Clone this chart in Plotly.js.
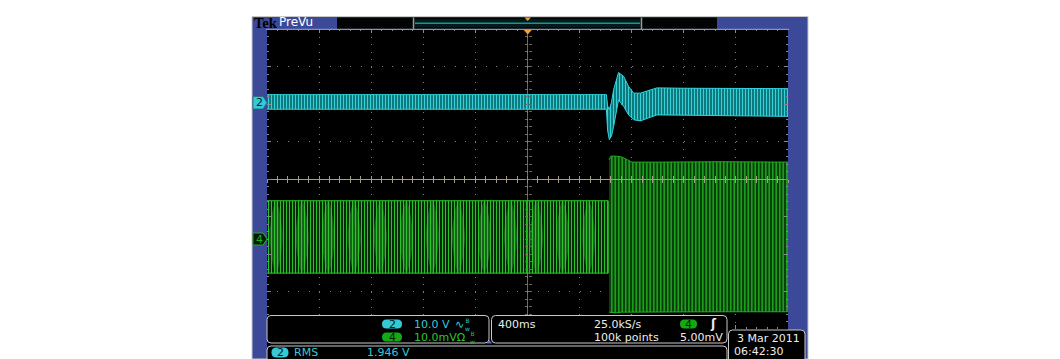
<!DOCTYPE html>
<html><head><meta charset="utf-8">
<script src="https://cdn.plot.ly/plotly-3.0.1.min.js"></script>
<style>html,body{margin:0;padding:0;background:#fff;}#chart{width:1060px;height:359px;}</style>
</head><body><div id="chart"></div><script>
// ---- acquisition settings (from the readouts) ----
const timePerDiv_s = 0.4;          // 400 ms/div, 10 divisions, trigger at centre
const ch2VoltsPerDiv = 10.0;       // CH2 10.0 V/div
const ch4mVPerDiv = 10.0;          // CH4 10.0 mV/div
const ch2PositionDiv = 2.04;       // CH2 ground marker
const ch4PositionDiv = -1.59;      // CH4 ground marker

// ---- CH2 (cyan) envelope of the dense waveform, volts about ground ----
const ch2Time  = [-2.0, 0.606, 0.615, 0.628, 0.645, 0.661, 0.699, 0.738, 0.776, 0.815, 0.866, 0.930, 0.994, 1.20, 1.50, 2.0];
const ch2Upper = [ 2.1,  2.1,  -0.9,  -1.9,   0.1,   3.4,   8.0,   7.0,   4.3,   2.5,   2.5,   3.2,   3.9,  3.8,  3.7, 3.7];
const ch2Lower = [-1.8, -1.8,  -7.4,  -9.9,  -8.9,  -6.4,   0.7,  -1.0,  -3.3,  -4.6,  -4.9,  -4.1,  -3.3, -3.5, -3.6, -3.7];

// ---- CH4 (green) envelope, mV about ground: before the step ----
const ch4PreTime  = [-2.0, 0.620];
const ch4PreUpper = [10.1, 10.1];
const ch4PreLower = [-9.2, -9.2];
// ---- CH4 after the step ----
const ch4PostTime  = [0.626, 0.640, 0.680, 0.720, 0.770, 0.800, 1.00, 1.50, 2.0];
const ch4PostUpper = [21.0,  22.0,  22.0,  21.8,  21.0,  20.4,  20.4, 20.5, 20.4];
const ch4PostLower = [-19.6, -19.8, -19.8, -19.6, -19.5, -19.5, -19.5, -19.5, -19.5];
// centres of the bright beat lobes before the step, s
const ch4LobeTimes = [-1.93, -1.73, -1.53, -1.33, -1.13, -0.93, -0.73, -0.53, -0.33, -0.13, 0.07, 0.27, 0.47];

// ---- readout texts ----
const ch2Scale = "10.0 V";
const ch4Scale = "10.0mVΩ";
const horizScale = "400ms";
const sampleRate = "25.0kS/s";
const recordLen = "100k points";
const trigLevel = "5.00mV";
const dateText = "3 Mar 2011";
const timeText = "06:42:30";
const measName = "RMS";
const measValue = "1.946 V";

// ---- geometry helpers (decoration only) ----
const PX0 = 267, PW = 521, PY1 = 329, PH = 300;
const X = px => (px - PX0) / PW;
const Y = py => (PY1 - py) / PH;
function rrect(x0, y0, x1, y1, r) {
  return `M${X(x0 + r)},${Y(y0)} L${X(x1 - r)},${Y(y0)} Q${X(x1)},${Y(y0)} ${X(x1)},${Y(y0 + r)} ` +
         `L${X(x1)},${Y(y1 - r)} Q${X(x1)},${Y(y1)} ${X(x1 - r)},${Y(y1)} L${X(x0 + r)},${Y(y1)} ` +
         `Q${X(x0)},${Y(y1)} ${X(x0)},${Y(y1 - r)} L${X(x0)},${Y(y0 + r)} Q${X(x0)},${Y(y0)} ${X(x0 + r)},${Y(y0)} Z`;
}
function poly(pts) { return 'M' + pts.map(p => `${X(p[0])},${Y(p[1])}`).join(' L') + ' Z'; }
const FONT = 'DejaVu Sans, Verdana, sans-serif';
function ann(text, px, py, color, size, xanchor, extra) {
  return Object.assign({xref: 'paper', yref: 'paper', x: X(px), y: Y(py), xanchor: xanchor || 'left', yanchor: 'middle',
    showarrow: false, text: text, font: {family: FONT, size: size || 11, color: color}}, extra || {});
}

// ---- traces ----
const ch2Div = v => ch2PositionDiv + v / ch2VoltsPerDiv;
const ch4Div = v => ch4PositionDiv + v / ch4mVPerDiv;

function band(t, up, lo, conv) {
  const rt = t.slice().reverse(), rl = lo.slice().reverse();
  return {x: t.concat(rt), y: up.map(conv).concat(rl.map(conv))};
}
const ch4PreBand = band(ch4PreTime, ch4PreUpper, ch4PreLower, ch4Div);
const ch4PostBand = band(ch4PostTime, ch4PostUpper, ch4PostLower, ch4Div);
const ch2Band = band(ch2Time, ch2Upper, ch2Lower, ch2Div);

// lobes (lens shapes spanning the pre-step band)
const lobeX = [], lobeY = [];
const lobeTop = ch4Div(ch4PreUpper[0]), lobeBot = ch4Div(ch4PreLower[0]), lobeMid = (lobeTop + lobeBot) / 2;
ch4LobeTimes.forEach(c => {
  lobeX.push(c, c + 0.05, c, c - 0.05, c, null);
  lobeY.push(lobeTop, lobeMid, lobeBot, lobeMid, lobeTop, null);
});

const traces = [
  {type: 'scatter', mode: 'lines', x: ch4PreBand.x, y: ch4PreBand.y, fill: 'toself',
   fillcolor: '#031a04', line: {color: '#2bd02b', width: 1},
   fillpattern: {shape: '|', fgcolor: '#25c425', fgopacity: 1, size: 3, solidity: 0.4, fillmode: 'overlay'},
   hoverinfo: 'skip', name: 'CH4'},
  {type: 'scatter', mode: 'lines', x: lobeX, y: lobeY, fill: 'toself', connectgaps: false,
   fillcolor: 'rgba(60,200,60,0.35)', line: {width: 0, shape: 'spline'}, hoverinfo: 'skip', name: 'lobes'},
  {type: 'scatter', mode: 'lines', x: ch4PostBand.x, y: ch4PostBand.y, fill: 'toself',
   fillcolor: '#073a09', line: {color: '#22b022', width: 1},
   fillpattern: {shape: '|', fgcolor: '#1ea81e', fgopacity: 1, size: 3.5, solidity: 0.45, fillmode: 'overlay'},
   hoverinfo: 'skip', name: 'CH4b'},
  {type: 'scatter', mode: 'lines', x: ch2Band.x, y: ch2Band.y, fill: 'toself',
   fillcolor: '#08666b', line: {color: '#35d4dc', width: 1},
   fillpattern: {shape: '|', fgcolor: '#33d2da', fgopacity: 1, size: 3, solidity: 0.45, fillmode: 'overlay'},
   hoverinfo: 'skip', name: 'CH2'},
  {type: 'scatter', x: [], y: [], xaxis: 'x2', yaxis: 'y2', hoverinfo: 'skip'},
  {type: 'scatter', x: [], y: [], xaxis: 'x3', yaxis: 'y3', hoverinfo: 'skip'}
];

// ---- decoration shapes ----
const BLUE = '#3b4998', ORANGE = '#f0a23a', CYAN = '#35c9d6', GREEN = '#1fb41f';
const shapes = [
  // scope frame + graticule + readout backdrop (below plot content)
  {type: 'path', xref: 'paper', yref: 'paper', layer: 'below', path: poly([[252, 16.5], [808, 16.5], [808, 359], [252, 359]]), fillcolor: BLUE, line: {color: '#c8c8c8', width: 1}},
  {type: 'path', xref: 'paper', yref: 'paper', layer: 'below', path: poly([[267, 29], [788, 29], [788, 359], [267, 359]]), fillcolor: '#000', line: {width: 0}},
  // top bar boxes
  {type: 'path', xref: 'paper', yref: 'paper', layer: 'above', path: poly([[337, 17.5], [717, 17.5], [717, 29], [337, 29]]), fillcolor: '#020404', line: {width: 0}},
  {type: 'path', xref: 'paper', yref: 'paper', layer: 'above', path: poly([[414, 19], [641, 19], [641, 27], [414, 27]]), fillcolor: '#031c1b', line: {width: 0}},
  {type: 'line', xref: 'paper', yref: 'paper', layer: 'above', x0: X(415), x1: X(640), y0: Y(23.3), y1: Y(23.3), line: {color: '#1b9490', width: 1.5}},
  {type: 'line', xref: 'paper', yref: 'paper', layer: 'above', x0: X(413.5), x1: X(413.5), y0: Y(17.5), y1: Y(29), line: {color: '#9a9a9a', width: 1.5}},
  {type: 'line', xref: 'paper', yref: 'paper', layer: 'above', x0: X(641.5), x1: X(641.5), y0: Y(17.5), y1: Y(29), line: {color: '#9a9a9a', width: 1.5}},
  {type: 'path', xref: 'paper', yref: 'paper', layer: 'above', path: poly([[524.5, 17.5], [531, 17.5], [527.7, 21]]), fillcolor: ORANGE, line: {width: 0}},
  // graticule top border
  {type: 'line', xref: 'paper', yref: 'paper', layer: 'above', x0: X(266), x1: X(789), y0: Y(29.3), y1: Y(29.3), line: {color: '#8594c8', width: 1.2}},
  // centre vertical line (drawn over the traces like the scope does)
  {type: 'line', xref: 'x', yref: 'y', layer: 'above', x0: 0, x1: 0, y0: -4, y1: 4, line: {color: 'rgba(150,140,118,0.75)', width: 1}},
  // trigger position marker on graticule
  {type: 'path', xref: 'paper', yref: 'paper', layer: 'above', path: poly([[523.5, 29.8], [532, 29.8], [527.7, 34.5]]), fillcolor: ORANGE, line: {width: 0}},
  // channel markers
  {type: 'path', xref: 'paper', yref: 'paper', layer: 'above', path: poly([[253, 96.5], [263, 96.5], [267, 102.7], [263, 109], [253, 109]]), fillcolor: CYAN, line: {color: '#1a6f78', width: 0.8}},
  {type: 'path', xref: 'paper', yref: 'paper', layer: 'above', path: poly([[253, 233], [263, 233], [267, 239], [263, 245], [253, 245]]), fillcolor: '#061806', line: {color: GREEN, width: 1}},
  // readout panels
  {type: 'path', xref: 'paper', yref: 'paper', layer: 'above', path: rrect(267, 315.5, 489, 343, 4), fillcolor: '#000', line: {color: '#c8c8c8', width: 1}},
  {type: 'path', xref: 'paper', yref: 'paper', layer: 'above', path: rrect(491.5, 315.5, 727, 343, 4), fillcolor: '#000', line: {color: '#c8c8c8', width: 1}},
  {type: 'path', xref: 'paper', yref: 'paper', layer: 'above', path: poly([[486.5, 343.5], [492, 343.5], [489.3, 340]]), fillcolor: '#5a74d0', line: {width: 0}},
  {type: 'path', xref: 'paper', yref: 'paper', layer: 'above', path: rrect(267, 346, 727, 372, 4), fillcolor: '#000', line: {color: '#c8c8c8', width: 1}},
  {type: 'path', xref: 'paper', yref: 'paper', layer: 'above', path: rrect(728.5, 330, 805, 372, 4), fillcolor: '#000', line: {color: '#c8c8c8', width: 1}},
  // badges
  {type: 'path', xref: 'paper', yref: 'paper', layer: 'above', path: rrect(382, 319.5, 402, 328.5, 4.5), fillcolor: CYAN, line: {width: 0}},
  {type: 'path', xref: 'paper', yref: 'paper', layer: 'above', path: rrect(382, 332.5, 402, 341.5, 4.5), fillcolor: '#14a814', line: {width: 0}},
  {type: 'path', xref: 'paper', yref: 'paper', layer: 'above', path: rrect(680, 319.5, 697, 328.5, 4.5), fillcolor: '#14a814', line: {width: 0}},
  {type: 'path', xref: 'paper', yref: 'paper', layer: 'above', path: rrect(271.5, 347.5, 288.5, 357.5, 5), fillcolor: CYAN, line: {width: 0}}
];

const W = '#ececec';
const annotations = [
  ann('<b>Tek</b>', 252, 23, '#000', 14, 'left', {font: {family: 'Liberation Serif, serif', size: 14.5, color: '#000'}}),
  ann('PreVu', 276.5, 22.5, '#fff', 12),
  ann('2', 259, 102.7, '#06262a', 11, 'center'),
  ann('4', 259, 239, GREEN, 11, 'center'),
  ann('2', 392, 324.2, '#031c1e', 11, 'center'),
  ann(ch2Scale, 411.5, 324.2, CYAN, 11),
  ann('∿', 453, 324, CYAN, 11),
  ann('B<br>w', 462.5, 324, CYAN, 6, 'left', {font: {family: FONT, size: 6, color: CYAN}}),
  ann('4', 392, 337.2, '#031c03', 11, 'center'),
  ann(ch4Scale, 411.5, 337.2, '#2ec42e', 11),
  ann('B<br>w', 467.5, 337, '#2ec42e', 6, 'left', {font: {family: FONT, size: 6, color: '#2ec42e'}}),
  ann(horizScale, 495.5, 324.2, W, 11),
  ann(sampleRate, 591.5, 324.2, W, 11),
  ann(recordLen, 591.5, 337.2, W, 11),
  ann('4', 688.5, 324.2, '#031c03', 11, 'center'),
  ann('<b>ʃ</b>', 707.5, 324, W, 12),
  ann(trigLevel, 678, 337.2, W, 11),
  ann(dateText, 735, 338.5, W, 11),
  ann(timeText, 731.5, 351.8, W, 11),
  ann('2', 280, 352.6, '#031c1e', 11, 'center'),
  ann(measName, 292, 352.6, CYAN, 11),
  ann(measValue, 364.5, 352.6, CYAN, 11)
];

const gridCol = '#7c7c7c', tickCol = '#8a8a8a', ctr = '#a39b8a';
const layout = {
  width: 1060, height: 359,
  margin: {l: PX0, r: 1060 - PX0 - PW, t: PY1 - PH, b: 359 - PY1, pad: 0},
  paper_bgcolor: '#ffffff', plot_bgcolor: '#000000',
  showlegend: false,
  xaxis: {range: [-5 * timePerDiv_s, 5 * timePerDiv_s], domain: [0, 1], dtick: timePerDiv_s, tick0: -2,
          showgrid: true, gridcolor: gridCol, gridwidth: 1, griddash: '1px,6.5px', zeroline: false,
          showticklabels: false, ticks: 'inside', ticklen: 4, tickcolor: tickCol, mirror: 'ticks', showline: false,
          minor: {ticks: 'inside', ticklen: 2, dtick: timePerDiv_s / 5, tick0: -2, tickcolor: tickCol, showgrid: false},
          fixedrange: true},
  yaxis: {range: [-4, 4], domain: [0, 1], dtick: 1, tick0: -4,
          showgrid: true, gridcolor: gridCol, gridwidth: 1, griddash: '1px,9.42px', zeroline: false,
          showticklabels: false, ticks: 'inside', ticklen: 4, tickcolor: tickCol, mirror: 'ticks', showline: false,
          minor: {ticks: 'inside', ticklen: 2, dtick: 0.2, tick0: -4, tickcolor: tickCol, showgrid: false},
          fixedrange: true},
  xaxis2: {overlaying: 'x', anchor: 'free', position: 0.5, range: [-2, 2], dtick: timePerDiv_s / 5, tick0: -2,
           ticks: 'outside', ticklen: 3, tickcolor: ctr, showticklabels: false, showgrid: false, zeroline: false,
           showline: true, linecolor: ctr, linewidth: 1},
  xaxis3: {overlaying: 'x', anchor: 'free', position: 0.5, range: [-2, 2], dtick: timePerDiv_s / 5, tick0: -2,
           ticks: 'inside', ticklen: 3, tickcolor: ctr, showticklabels: false, showgrid: false, zeroline: false, showline: false},
  yaxis2: {overlaying: 'y', anchor: 'free', position: 0.5, range: [-4, 4], dtick: 0.2, tick0: -4,
           ticks: 'outside', ticklen: 3, tickcolor: '#6e6658', showticklabels: false, showgrid: false, zeroline: false, showline: false},
  yaxis3: {overlaying: 'y', anchor: 'free', position: 0.5, range: [-4, 4], dtick: 0.2, tick0: -4,
           ticks: 'inside', ticklen: 3, tickcolor: '#6e6658', showticklabels: false, showgrid: false, zeroline: false, showline: false},
  shapes: shapes,
  annotations: annotations
};

Plotly.newPlot('chart', traces, layout, {staticPlot: true, displayModeBar: false});
</script></body></html>
